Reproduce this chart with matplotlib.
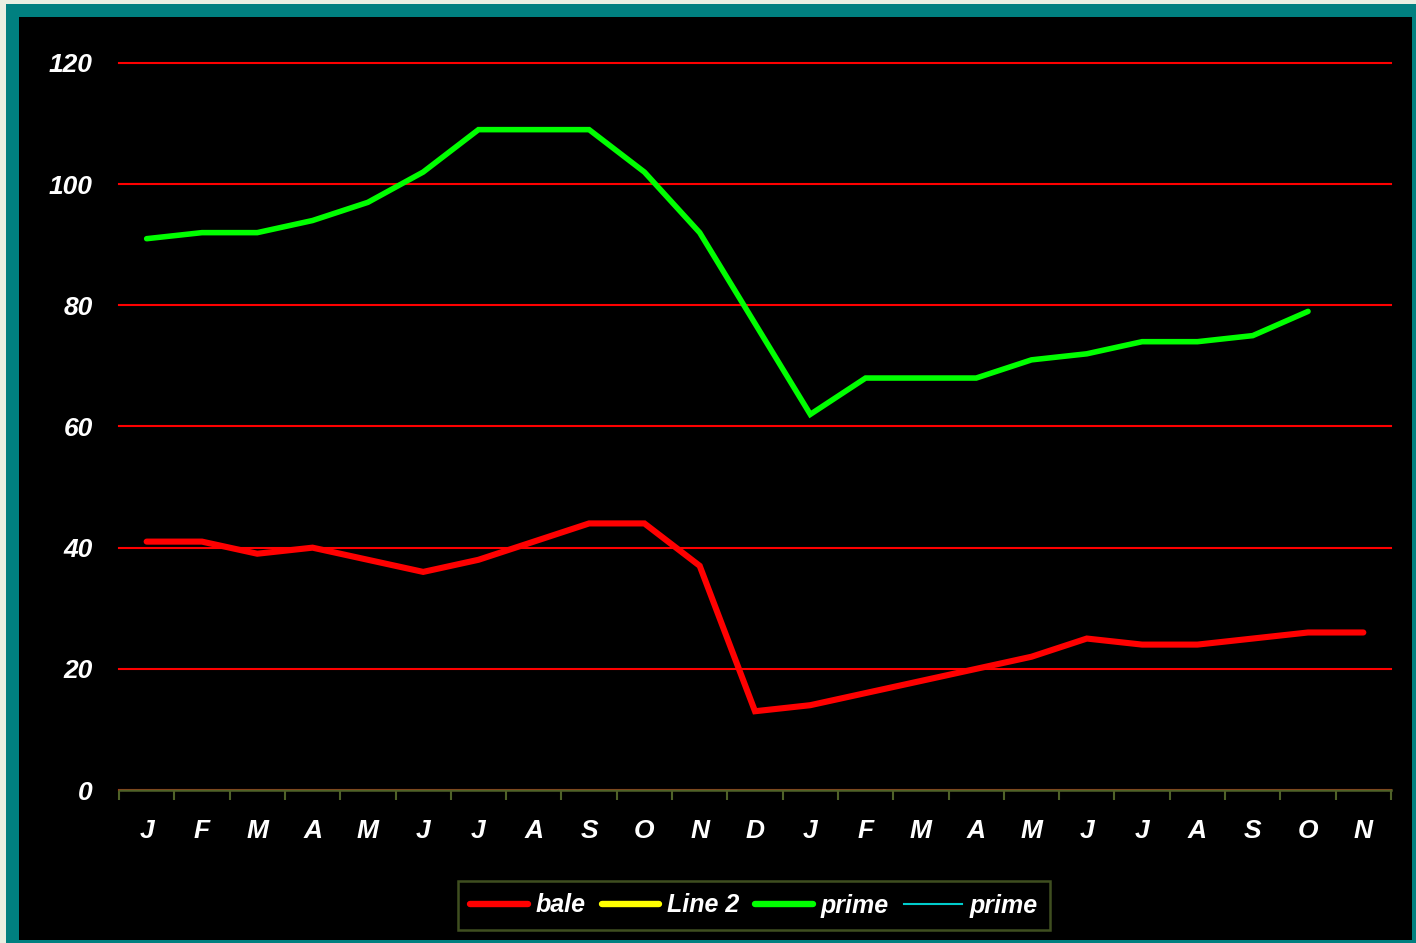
import matplotlib
matplotlib.use('Agg')
import matplotlib.pyplot as plt
from matplotlib.patches import Rectangle

months = ['J', 'F', 'M', 'A', 'M', 'J', 'J', 'A', 'S', 'O', 'N', 'D',
          'J', 'F', 'M', 'A', 'M', 'J', 'J', 'A', 'S', 'O', 'N']
bale = [41, 41, 39, 40, 38, 36, 38, 41, 44, 44, 37, 13,
        14, 16, 18, 20, 22, 25, 24, 24, 25, 26, 26]
prime = [91, 92, 92, 94, 97, 102, 109, 109, 109, 102, 92, 77,
         62, 68, 68, 68, 71, 72, 74, 74, 75, 79]
line2 = []
prime2 = []
yticks = [0, 20, 40, 60, 80, 100, 120]

W, H = 1416, 943
olive = '#4f6228'
font = ['Liberation Sans', 'DejaVu Sans']

fig = plt.figure(figsize=(W / 100, H / 100), dpi=100, facecolor='#e9efe2')
# teal frame and black panel (figure pixel coords)
fig.patches.append(Rectangle((6 / W, 0), 1 - 6 / W, (H - 4) / H,
                             transform=fig.transFigure, facecolor='#008080',
                             edgecolor='none', zorder=-2))
fig.patches.append(Rectangle((19 / W, 3 / H), (1412 - 19) / W, (940 - 17) / H,
                             transform=fig.transFigure, facecolor='black',
                             edgecolor='none', zorder=-1))

ax = fig.add_axes([119 / W, (H - 790) / H, 1272 / W, 727 / H])
ax.set_facecolor('none')

x = list(range(len(months)))
ax.plot(x[:len(bale)], bale, color='#ff0000', lw=4.4, label='bale',
        solid_capstyle='round', solid_joinstyle='miter', zorder=3)
ax.plot(x[:len(line2)], line2, color='#ffff00', lw=4.4, label='Line 2',
        solid_capstyle='round')
ax.plot(x[:len(prime)], prime, color='#00ff00', lw=4.0, label='prime',
        solid_capstyle='round', solid_joinstyle='miter', zorder=3)
ax.plot(x[:len(prime2)], prime2, color='#00cccc', lw=1.5, label='prime')

ax.set_xlim(-0.5, len(months) - 0.5)
ax.set_ylim(0, 120)
ax.set_yticks(yticks)
ax.set_yticklabels([str(v) for v in yticks])
ax.yaxis.grid(True, color='#ff0000', lw=1.5)
for gl in ax.get_ygridlines():
    gl.set_clip_on(False)
ax.set_axisbelow(True)
ax.tick_params(axis='y', length=0, pad=19, labelcolor='white')

ax.set_xticks(x)
ax.set_xticklabels(months)
ax.set_xticks([i - 0.5 for i in range(len(months) + 1)], minor=True)
ax.tick_params(axis='x', which='major', length=0, pad=21, labelcolor='white')
ax.tick_params(axis='x', which='minor', length=7, width=1.5, color=olive,
               direction='out')

for lab in ax.get_xticklabels() + ax.get_yticklabels():
    lab.set_family(font)
    lab.set_fontsize(19)
    lab.set_fontweight('bold')
    lab.set_fontstyle('italic')

for s in ['top', 'right', 'left']:
    ax.spines[s].set_visible(False)
ax.spines['bottom'].set_color(olive)
ax.spines['bottom'].set_linewidth(1.8)

leg = fig.legend(loc='upper center', bbox_to_anchor=(754 / W, (H - 881) / H),
                 ncol=4, frameon=True, fancybox=False, handlelength=2.3,
                 handletextpad=0.3, columnspacing=0.65, borderpad=0.5,
                 borderaxespad=0,
                 prop={'family': font, 'size': 18, 'weight': 'bold',
                       'style': 'italic'})
leg.get_frame().set_facecolor('black')
leg.get_frame().set_edgecolor(olive)
leg.get_frame().set_linewidth(1.8)
for t in leg.get_texts():
    t.set_color('white')
for ln in leg.get_lines()[:3]:
    ln.set_linewidth(4.6)

fig.savefig('out.png', dpi=100, facecolor=fig.get_facecolor())
